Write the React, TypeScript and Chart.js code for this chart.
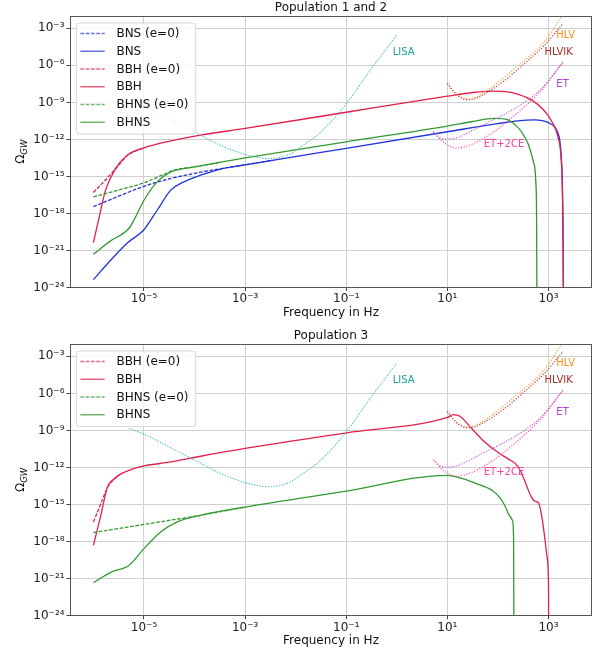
import React, { useEffect, useRef } from 'react';
import { Chart, registerables } from 'chart.js';

Chart.register(...registerables);

// Every point is [log10(frequency / Hz), log10(Omega_GW)]
type P = [number, number];

const FONT = '"DejaVu Sans", sans-serif';

const X_TICK_EXP = [-5, -3, -1, 1, 3];
const Y_TICK_EXP = [-24, -21, -18, -15, -12, -9, -6, -3];
const X_RANGE_EXP: [number, number] = [-6.463, 3.86];
const Y_RANGE_EXP: [number, number] = [-24, -2];

// ---------- Population 1 and 2 ----------
const P12_BNS_E0: P[] = [[-6.0, -17.45], [-5.5, -16.6], [-5.0, -15.8], [-4.5, -15.2], [-4.0, -14.75], [-3.5, -14.38], [-3.0, -14.06], [-2.5, -13.72]];
const P12_BNS: P[] = [[-6.0, -23.36], [-5.66, -21.79], [-5.33, -20.39], [-5.01, -19.36], [-4.74, -17.74], [-4.47, -16.11], [-4.21, -15.44], [-3.88, -14.9], [-3.5, -14.42], [-3.0, -14.07], [-1.0, -12.72], [1.0, -11.38], [2.0, -10.72], [2.4, -10.5], [2.7, -10.42], [2.9, -10.5], [3.02, -10.68], [3.12, -10.98], [3.18, -11.4], [3.22, -12.0], [3.25, -13.2], [3.27, -15.0], [3.283, -18.0], [3.29, -21.0], [3.296, -27.0]];
const P12_BBH_E0: P[] = [[-6.0, -16.3], [-5.8, -15.45], [-5.6, -14.55], [-5.45, -13.85], [-5.33, -13.3], [-5.0, -12.68]];
const P12_BBH: P[] = [[-6.0, -20.36], [-5.88, -18.2], [-5.76, -16.11], [-5.56, -14.35], [-5.33, -13.28], [-5.0, -12.68], [-4.47, -12.12], [-3.88, -11.65], [-3.0, -11.11], [-1.0, -9.8], [1.0, -8.5], [1.5, -8.2], [1.95, -8.08], [2.3, -8.22], [2.66, -8.8], [2.9, -9.6], [3.05, -10.45], [3.19, -11.85], [3.25, -13.6], [3.28, -17.0], [3.29, -21.0], [3.296, -27.0]];
const P12_BHNS_E0: P[] = [[-6.0, -16.66], [-5.5, -16.1], [-5.0, -15.52], [-4.7, -15.0], [-4.41, -14.5], [-4.0, -14.22], [-3.5, -13.85]];
const P12_BHNS: P[] = [[-6.0, -21.3], [-5.66, -20.22], [-5.3, -19.22], [-5.2, -18.55], [-5.0, -16.93], [-4.74, -15.44], [-4.47, -14.63], [-4.2, -14.35], [-3.88, -14.14], [-3.0, -13.5], [-1.0, -12.2], [1.0, -10.92], [1.5, -10.55], [1.93, -10.3], [2.2, -10.42], [2.36, -10.9], [2.47, -11.4], [2.6, -12.4], [2.7, -13.8], [2.75, -15.5], [2.765, -19.0], [2.772, -27.0]];

// ---------- Population 3 ----------
const P3_BBH_E0: P[] = [[-6.0, -16.41], [-5.86, -15.0], [-5.72, -13.6], [-5.6, -13.0], [-5.49, -12.63]];
const P3_BBH: P[] = [[-6.0, -18.3], [-5.86, -16.0], [-5.72, -13.57], [-5.6, -12.95], [-5.49, -12.6], [-5.26, -12.17], [-5.0, -11.87], [-4.47, -11.55], [-3.88, -11.09], [-3.0, -10.46], [-1.0, -9.2], [1.0, -7.95], [1.12, -7.72], [1.25, -7.85], [1.45, -8.7], [1.7, -9.79], [2.03, -10.87], [2.2, -11.3], [2.36, -11.75], [2.45, -12.3], [2.55, -13.3], [2.65, -14.3], [2.72, -14.7], [2.8, -14.85], [2.86, -15.8], [2.92, -17.5], [2.97, -19.2], [3.0, -21.5], [3.006, -27.0]];
const P3_BHNS_E0: P[] = [[-6.0, -17.27], [-5.0, -16.61], [-4.3, -16.15], [-3.88, -15.87], [-3.0, -15.2]];
const P3_BHNS: P[] = [[-6.0, -21.33], [-5.65, -20.47], [-5.3, -19.93], [-5.0, -18.57], [-4.67, -17.22], [-4.34, -16.41], [-3.88, -15.87], [-3.0, -15.2], [-1.0, -13.92], [1.0, -12.63], [1.3, -12.9], [1.57, -13.3], [1.9, -13.9], [2.05, -14.5], [2.15, -15.2], [2.23, -15.9], [2.29, -16.3], [2.31, -18.0], [2.316, -27.0]];

// ---------- Detector sensitivity curves ----------
const LISA: P[] = [[-5.29, -8.84], [-5.0, -9.3], [-4.5, -10.35], [-4.0, -11.4], [-3.5, -12.45], [-3.0, -13.22], [-2.7, -13.5], [-2.5, -13.56], [-2.3, -13.45], [-2.1, -13.15], [-1.9, -12.6], [-1.5, -11.4], [-1.0, -9.11], [-0.5, -6.25], [0.0, -3.55]];
const HLV: P[] = [[1.0, -7.46], [1.15, -8.2], [1.3, -8.62], [1.4, -8.7], [1.55, -8.6], [1.7, -8.27], [2.1, -7.06], [2.49, -5.71], [2.89, -4.22], [3.25, -2.06], [3.3, -1.7]];
const HLVIK: P[] = [[1.0, -7.46], [1.15, -8.25], [1.3, -8.7], [1.42, -8.78], [1.55, -8.7], [1.7, -8.4], [2.1, -7.33], [2.49, -5.98], [2.89, -4.49], [3.29, -2.6]];
const ET: P[] = [[0.72, -11.38], [0.85, -11.85], [0.98, -11.98], [1.2, -11.85], [1.38, -11.52], [1.7, -10.84], [2.1, -10.03], [2.49, -9.08], [2.83, -8.0], [3.09, -6.79], [3.29, -5.71]];
const ET_2CE: P[] = [[0.72, -11.38], [0.85, -11.95], [0.98, -12.4], [1.18, -12.7], [1.44, -12.47], [1.84, -11.6], [2.23, -10.4], [2.63, -8.95], [2.89, -7.87], [3.09, -6.79], [3.29, -5.71]];

const DETECTOR_LABELS = [
  { text: 'LISA', lf: -0.08, lo: -5.17, color: '#1fa3a3' },
  { text: 'HLV', lf: 3.155, lo: -3.82, color: '#ff9020' },
  { text: 'HLVIK', lf: 2.92, lo: -5.17, color: '#a52a2a' },
  { text: 'ET', lf: 3.155, lo: -7.76, color: '#b040e0' },
  { text: 'ET+2CE', lf: 1.72, lo: -12.6, color: '#ff3fa0' },
];

const BLUE = '#2233dd';
const RED = '#e0204a';
const GREEN = '#319a31';
const DASH = [3.7, 1.6];
const DOT = [1.2, 1.6];

interface SeriesDef {
  label: string;
  data: P[];
  color: string;
  dash: number[];
  width: number;
  legend: boolean;
  legendColor?: string;
}

const detectors: SeriesDef[] = [
  { label: 'LISA', data: LISA, color: '#45bcbc', dash: DOT, width: 1.2, legend: false },
  { label: 'HLV', data: HLV, color: '#ffa040', dash: DOT, width: 1.2, legend: false },
  { label: 'HLVIK', data: HLVIK, color: '#b04545', dash: DOT, width: 1.2, legend: false },
  { label: 'ET', data: ET, color: '#c05ae6', dash: DOT, width: 1.2, legend: false },
  { label: 'ET+2CE', data: ET_2CE, color: '#ff50b0', dash: DOT, width: 1.2, legend: false },
];

interface PanelDef {
  title: string;
  height: number;
  top: number;
  xAxisH: number;
  series: SeriesDef[];
}

const PANELS: PanelDef[] = [
  {
    title: 'Population 1 and 2',
    height: 328,
    top: 0,
    xAxisH: 40.5,
    series: [
      { label: 'BNS (e=0)', data: P12_BNS_E0, color: BLUE, dash: DASH, width: 1.3, legend: true, legendColor: 'rgba(34,51,221,0.7)' },
      { label: 'BNS', data: P12_BNS, color: BLUE, dash: [], width: 1.3, legend: true, legendColor: 'rgba(34,51,221,0.7)' },
      { label: 'BBH (e=0)', data: P12_BBH_E0, color: RED, dash: DASH, width: 1.3, legend: true, legendColor: 'rgba(224,32,74,0.7)' },
      { label: 'BBH', data: P12_BBH, color: RED, dash: [], width: 1.3, legend: true, legendColor: 'rgba(224,32,74,0.7)' },
      { label: 'BHNS (e=0)', data: P12_BHNS_E0, color: GREEN, dash: DASH, width: 1.3, legend: true, legendColor: 'rgba(49,154,49,0.7)' },
      { label: 'BHNS', data: P12_BHNS, color: GREEN, dash: [], width: 1.3, legend: true, legendColor: 'rgba(49,154,49,0.7)' },
      ...detectors,
    ],
  },
  {
    title: 'Population 3',
    height: 325,
    top: 328,
    xAxisH: 37.3,
    series: [
      { label: 'BBH (e=0)', data: P3_BBH_E0, color: RED, dash: DASH, width: 1.3, legend: true, legendColor: 'rgba(224,32,74,0.7)' },
      { label: 'BBH', data: P3_BBH, color: RED, dash: [], width: 1.3, legend: true, legendColor: 'rgba(224,32,74,0.7)' },
      { label: 'BHNS (e=0)', data: P3_BHNS_E0, color: GREEN, dash: DASH, width: 1.3, legend: true, legendColor: 'rgba(49,154,49,0.7)' },
      { label: 'BHNS', data: P3_BHNS, color: GREEN, dash: [], width: 1.3, legend: true, legendColor: 'rgba(49,154,49,0.7)' },
      ...detectors,
    ],
  },
];

const SUP: Record<string, string> = { '-': '\u207B', '0': '\u2070', '1': '\u00B9', '2': '\u00B2', '3': '\u00B3', '4': '\u2074', '5': '\u2075', '6': '\u2076', '7': '\u2077', '8': '\u2078', '9': '\u2079' };
const pow10Label = (v: number) => '10' + String(Math.round(Math.log10(v))).split('').map((c) => SUP[c] || c).join('');

function roundRect(ctx: CanvasRenderingContext2D, x: number, y: number, w: number, h: number, r: number) {
  ctx.beginPath();
  ctx.moveTo(x + r, y);
  ctx.lineTo(x + w - r, y);
  ctx.arcTo(x + w, y, x + w, y + r, r);
  ctx.lineTo(x + w, y + h - r);
  ctx.arcTo(x + w, y + h, x + w - r, y + h, r);
  ctx.lineTo(x + r, y + h);
  ctx.arcTo(x, y + h, x, y + h - r, r);
  ctx.lineTo(x, y + r);
  ctx.arcTo(x, y, x + r, y, r);
  ctx.closePath();
}

function makePlugin(panel: PanelDef) {
  return {
    id: 'decor',
    afterDatasetsDraw(chart: any) {
      const ctx: CanvasRenderingContext2D = chart.ctx;
      const a = chart.chartArea;
      const xs = chart.scales.x;
      const ys = chart.scales.y;
      ctx.save();
      // frame
      ctx.strokeStyle = '#555555';
      ctx.lineWidth = 1;
      ctx.setLineDash([]);
      ctx.strokeRect(Math.round(a.left) + 0.5, Math.round(a.top) + 0.5, Math.round(a.right - a.left) - 1, Math.round(a.bottom - a.top) - 1);
      // detector labels
      ctx.font = `10px ${FONT}`;
      ctx.textAlign = 'left';
      ctx.textBaseline = 'alphabetic';
      for (const l of DETECTOR_LABELS) {
        ctx.fillStyle = l.color;
        ctx.fillText(l.text, xs.getPixelForValue(10 ** l.lf), ys.getPixelForValue(10 ** l.lo));
      }
      // legend
      const entries = panel.series.filter((s) => s.legend);
      const rowH = 17.75;
      const x0 = a.left + 6.4;
      const y0 = a.top + 7;
      const w = 119.3;
      const h = entries.length * rowH + 4.6;
      roundRect(ctx, x0, y0, w, h, 3);
      ctx.fillStyle = 'rgba(255,255,255,0.8)';
      ctx.fill();
      ctx.strokeStyle = 'rgba(204,204,204,0.8)';
      ctx.lineWidth = 1;
      ctx.stroke();
      ctx.font = `12px ${FONT}`;
      ctx.textBaseline = 'middle';
      entries.forEach((e, i) => {
        const cy = y0 + 10.5 + i * rowH;
        ctx.beginPath();
        ctx.strokeStyle = e.legendColor || e.color;
        ctx.lineWidth = 1.5;
        ctx.setLineDash(e.dash);
        ctx.moveTo(x0 + 4, cy);
        ctx.lineTo(x0 + 28.3, cy);
        ctx.stroke();
        ctx.setLineDash([]);
        ctx.fillStyle = '#111';
        ctx.fillText(e.label, x0 + 40, cy + 0.5);
      });
      ctx.restore();
    },
    afterDraw(chart: any) {
      const ctx: CanvasRenderingContext2D = chart.ctx;
      const a = chart.chartArea;
      const cx = (a.left + a.right) / 2;
      ctx.save();
      ctx.fillStyle = '#111';
      ctx.textAlign = 'center';
      ctx.textBaseline = 'middle';
      ctx.font = `12px ${FONT}`;
      ctx.fillText(panel.title, cx, 7.5);
      ctx.fillText('Frequency in Hz', cx, 313);
      // y label: Omega_GW
      const cy = (a.top + a.bottom) / 2;
      ctx.translate(19.5, cy);
      ctx.rotate(-Math.PI / 2);
      ctx.textAlign = 'left';
      ctx.textBaseline = 'alphabetic';
      ctx.font = `12px ${FONT}`;
      const w1 = ctx.measureText('\u03A9').width;
      ctx.font = `italic 8.5px ${FONT}`;
      const w2 = ctx.measureText('GW').width;
      const start = -(w1 + w2) / 2;
      ctx.font = `12px ${FONT}`;
      ctx.fillText('\u03A9', start, 4.5);
      ctx.font = `italic 8.5px ${FONT}`;
      ctx.fillText('GW', start + w1, 7);
      ctx.restore();
    },
  };
}

function buildConfig(panel: PanelDef): any {
  const ordered = [...panel.series].reverse(); // first dataset is drawn on top in Chart.js
  const datasets = ordered.map((s) => ({
    label: s.label,
    data: s.data.map(([lf, lo]) => ({ x: 10 ** lf, y: 10 ** lo })),
    borderColor: s.color,
    backgroundColor: s.color,
    borderWidth: s.width,
    borderDash: s.dash,
    pointRadius: 0,
    fill: false,
    cubicInterpolationMode: 'monotone',
  }));
  const tickFont = { family: FONT, size: 12 };
  return {
    type: 'line',
    data: { datasets },
    options: {
      animation: false,
      responsive: false,
      maintainAspectRatio: false,
      devicePixelRatio: 1,
      events: [],
      layout: { padding: { top: 16, right: 14, left: 0, bottom: 0 } },
      plugins: { legend: { display: false }, tooltip: { enabled: false }, title: { display: false } },
      scales: {
        x: {
          type: 'logarithmic',
          min: 10 ** X_RANGE_EXP[0],
          max: 10 ** X_RANGE_EXP[1],
          afterBuildTicks: (s: any) => {
            s.ticks = X_TICK_EXP.map((e) => ({ value: 10 ** e }));
          },
          afterFit: (s: any) => {
            s.height = panel.xAxisH;
          },
          ticks: { callback: (v: number) => pow10Label(v), font: tickFont, color: '#222', padding: 1, maxRotation: 0, autoSkip: false },
          grid: { color: '#d0d0d0', lineWidth: 1, tickLength: 3.5, tickColor: '#444' },
          border: { display: false },
        },
        y: {
          type: 'logarithmic',
          min: 10 ** Y_RANGE_EXP[0],
          max: 10 ** Y_RANGE_EXP[1],
          afterBuildTicks: (s: any) => {
            s.ticks = Y_TICK_EXP.map((e) => ({ value: 10 ** e }));
          },
          afterFit: (s: any) => {
            s.width = 70;
          },
          ticks: { callback: (v: number) => pow10Label(v), font: tickFont, color: '#222', padding: 2, autoSkip: false },
          grid: { color: '#d0d0d0', lineWidth: 1, tickLength: 3.5, tickColor: '#444' },
          border: { display: false },
        },
      },
    },
    plugins: [makePlugin(panel)],
  };
}

function PanelChart({ panel }: { panel: PanelDef }) {
  const ref = useRef<HTMLCanvasElement>(null);
  useEffect(() => {
    const canvas = ref.current;
    if (!canvas) return;
    const chart = new Chart(canvas, buildConfig(panel));
    return () => chart.destroy();
  }, [panel]);
  return (
    <div style={{ position: 'absolute', left: 0, top: panel.top, width: 606, height: panel.height }}>
      <canvas ref={ref} width={606} height={panel.height} style={{ display: 'block', width: 606, height: panel.height }} />
    </div>
  );
}

export default function App() {
  return (
    <div style={{ position: 'absolute', left: 0, top: 0, width: 606, height: 653, background: '#fff', overflow: 'hidden' }}>
      {PANELS.map((p) => (
        <PanelChart key={p.title} panel={p} />
      ))}
    </div>
  );
}
